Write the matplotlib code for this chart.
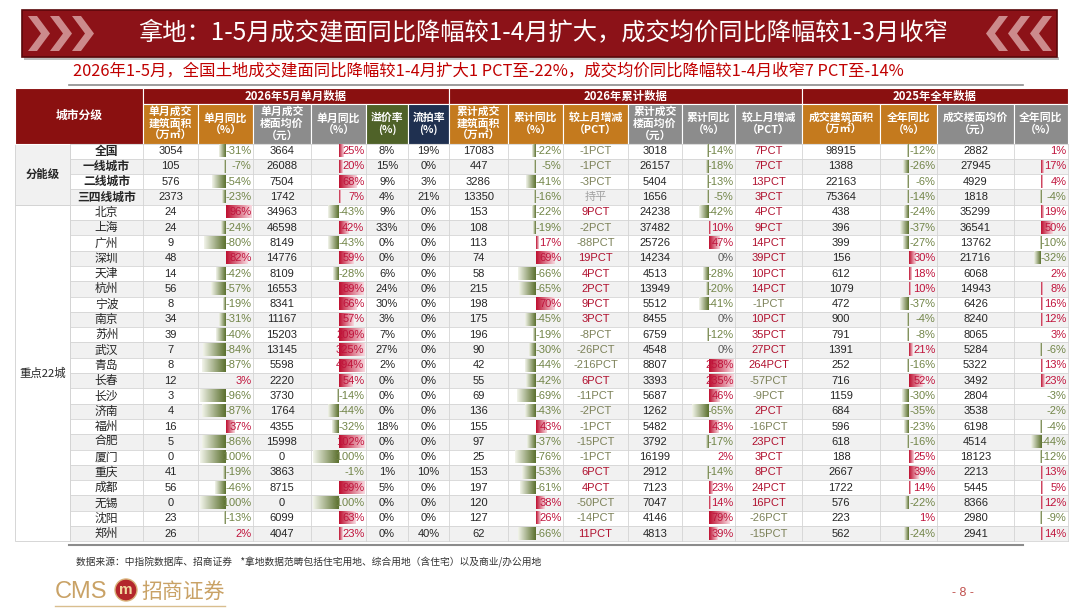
import numpy as np
import matplotlib
matplotlib.use("Agg")
import matplotlib.pyplot as plt
from matplotlib.patches import Rectangle, Polygon, Circle
from matplotlib.colors import LinearSegmentedColormap

CJK = ['Noto Sans CJK SC', 'DejaVu Sans']
NUMF = ['Liberation Sans', 'Noto Sans CJK SC', 'DejaVu Sans']

# ---- texts ----
title = "拿地：1-5月成交建面同比降幅较1-4月扩大，成交均价同比降幅较1-3月收窄"
subtitle = "2026年1-5月，全国土地成交建面同比降幅较1-4月扩大1 PCT至-22%，成交均价同比降幅较1-4月收窄7 PCT至-14%"
source = "数据来源：中指院数据库、招商证券    *拿地数据范畴包括住宅用地、综合用地（含住宅）以及商业/办公用地"
page_no = "- 8 -"

# ---- data ----
groups = [("分能级", 4), ("重点22城", 22)]
cities = ["全国", "一线城市", "二线城市", "三四线城市",
          "北京", "上海", "广州", "深圳", "天津", "杭州", "宁波", "南京", "苏州", "武汉", "青岛",
          "长春", "长沙", "济南", "福州", "合肥", "厦门", "重庆", "成都", "无锡", "沈阳", "郑州"]

m_area = [3054, 105, 576, 2373, 24, 24, 9, 48, 14, 56, 8, 34, 39, 7, 8, 12, 3, 4, 16, 5, 0, 41, 56, 0, 23, 26]
m_area_yoy = [-31, -7, -54, -23, 96, -24, -80, 82, -42, -57, -19, -31, -40, -84, -87, 3, -96, -87, 37, -86,
              -100, -19, -46, -100, -13, 2]
m_price = [3664, 26088, 7504, 1742, 34963, 46598, 8149, 14776, 8109, 16553, 8341, 11167, 15203, 13145, 5598,
           2220, 3730, 1764, 4355, 15998, 0, 3863, 8715, 0, 6099, 4047]
m_price_yoy = [25, 20, 68, 7, -43, 42, -43, 59, -28, 89, 66, 57, 209, 325, 494, 54, -14, -44, -32, 102,
               -100, -1, 99, -100, 63, 23]
premium = [8, 15, 9, 4, 9, 33, 0, 0, 6, 24, 30, 3, 7, 27, 2, 0, 0, 0, 18, 0, 0, 1, 5, 0, 0, 0]
unsold = [19, 0, 3, 21, 0, 0, 0, 0, 0, 0, 0, 0, 0, 0, 0, 0, 0, 0, 0, 0, 0, 10, 0, 0, 0, 40]

c_area = [17083, 447, 3286, 13350, 153, 108, 113, 74, 58, 215, 198, 175, 196, 90, 42, 55, 69, 136, 155, 97,
          25, 153, 197, 120, 127, 62]
c_area_yoy = [-22, -5, -41, -16, -22, -19, 17, 69, -66, -65, 70, -45, -19, -30, -44, -42, -69, -43, 43, -37,
              -76, -53, -61, 38, 26, -66]
c_area_chg = [-1, -1, -3, 0, 9, -2, -88, 19, 4, 2, 9, 3, -8, -26, -216, 6, -11, -2, -1, -15, -1, 6, 4, -50,
              -14, 11]
c_price = [3018, 26157, 5404, 1656, 24238, 37482, 25726, 14234, 4513, 13949, 5512, 8455, 6759, 4548, 8807,
           3393, 5687, 1262, 5482, 3792, 16199, 2912, 7123, 7047, 4146, 4813]
c_price_yoy = [-14, -18, -13, -5, -42, 10, 47, 0, -28, -20, -41, 0, -12, 0, 258, 235, 46, -65, 43, -17, 2,
               -14, 23, 14, 79, 39]
c_price_chg = [7, 7, 13, 3, 4, 9, 14, 39, 10, 14, -1, 10, 35, 27, 264, -57, -9, 2, -16, 23, 3, 8, 24, 16,
               -26, -15]

y_area = [98915, 1388, 22163, 75364, 438, 396, 399, 156, 612, 1079, 472, 900, 791, 1391, 252, 716, 1159,
          684, 596, 618, 188, 2667, 1722, 576, 223, 562]
y_area_yoy = [-12, -26, -6, -14, -24, -37, -27, 30, 18, 10, -37, -4, -8, 21, -16, 52, -30, -35, -23, -16,
              25, 39, 14, -22, 1, -24]
y_price = [2882, 27945, 4929, 1818, 35299, 36541, 13762, 21716, 6068, 14943, 6426, 8240, 8065, 5284, 5322,
           3492, 2804, 3538, 6198, 4514, 18123, 2213, 5445, 8366, 2980, 2941]
y_price_yoy = [1, 17, 4, -4, 19, 50, -10, -32, 2, 8, 16, 12, 3, -6, 13, 23, -3, -2, -4, -44, -12, 13, 5, 12,
               -9, 14]

top_headers = [("2026年5月单月数据", 6), ("2026年累计数据", 6), ("2025年全年数据", 4)]
O, G, GR, NV = '#C47A1E', '#8C8C8C', '#4F6228', '#1F3050'
columns = [
    ("单月成交\n建筑面积\n（万㎡）", O, m_area, "num"),
    ("单月同比\n（%）", O, m_area_yoy, "bar"),
    ("单月成交\n楼面均价\n（元）", G, m_price, "num"),
    ("单月同比\n（%）", G, m_price_yoy, "bar"),
    ("溢价率\n(%)", GR, premium, "pct"),
    ("流拍率\n(%)", NV, unsold, "pct"),
    ("累计成交\n建筑面积\n（万㎡）", O, c_area, "num"),
    ("累计同比\n（%）", O, c_area_yoy, "bar"),
    ("较上月增减\n（PCT）", O, c_area_chg, "chg"),
    ("累计成交\n楼面均价\n（元）", G, c_price, "num"),
    ("累计同比\n（%）", G, c_price_yoy, "bar"),
    ("较上月增减\n（PCT）", G, c_price_chg, "chg"),
    ("成交建筑面积\n（万㎡）", O, y_area, "num"),
    ("全年同比\n（%）", O, y_area_yoy, "bar"),
    ("成交楼面均价\n（元）", G, y_price, "num"),
    ("全年同比\n（%）", G, y_price_yoy, "bar"),
]

# ---- layout ----
x_edges = [15, 70, 143, 198, 253, 311, 366, 408, 449, 508, 563, 628, 682, 735, 802, 880, 937, 1014, 1068]
h_top, h_mid, y0, rh = 88, 104, 143.5, 15.3
DARK_RED = '#8A1010'
POS, NEG = '#C0143C', '#728548'
TXT = '#262626'
FS = 8.5
FN = 8
green_cm = LinearSegmentedColormap.from_list('g', ['#F2F4EA', '#5B702E'])
red_cm = LinearSegmentedColormap.from_list('r', ['#F8D9E0', '#BE0F30'])

fig = plt.figure(figsize=(10.8, 6.08), dpi=100)
ax = fig.add_axes([0, 0, 1, 1])

# banner
ax.add_patch(Rectangle((22, 10), 1035, 47, fc='#8C1218', ec='#5A080B', lw=1.2, zorder=1))
ax.add_patch(Rectangle((24, 57), 1035, 2.5, fc='#BDBDBD', ec='none', zorder=0))
for i in range(3):
    xs = 28 + i * 22
    ax.add_patch(Polygon([(xs, 16), (xs + 9, 16), (xs + 22, 33.5), (xs + 9, 51), (xs, 51), (xs + 13, 33.5)],
                         closed=True, fc='#E3B4B4', ec='none', alpha=0.75, zorder=2))
    xr = 1052 - i * 22
    ax.add_patch(Polygon([(xr, 16), (xr - 9, 16), (xr - 22, 33.5), (xr - 9, 51), (xr, 51), (xr - 13, 33.5)],
                         closed=True, fc='#E3B4B4', ec='none', alpha=0.75, zorder=2))
ax.text(543, 33.5, title, color='white', fontsize=17.5, family=CJK, ha='center', va='center', zorder=3)
ax.text(73, 71, subtitle, color='#C00000', fontsize=11.8, family=CJK, ha='left', va='center')
ax.plot([69, 1023], [84.5, 84.5], color='#8C8C8C', lw=1.2)

# header
ax.add_patch(Rectangle((x_edges[0], h_top), x_edges[2] - x_edges[0], y0 - h_top, fc=DARK_RED, ec='white', lw=0.8))
ax.text((x_edges[0] + x_edges[2]) / 2, (h_top + y0) / 2, "城市分级", color='white', fontsize=8.5,
        weight='bold', family=CJK, ha='center', va='center')
ci = 2
for label, n in top_headers:
    xa, xb = x_edges[ci], x_edges[ci + n]
    ax.add_patch(Rectangle((xa, h_top), xb - xa, h_mid - h_top, fc=DARK_RED, ec='white', lw=0.8))
    ax.text((xa + xb) / 2, (h_top + h_mid) / 2, label, color='white', fontsize=8.2, weight='bold',
            family=CJK, ha='center', va='center')
    ci += n
line_gap = 12
for j, (label, col, vals, kind) in enumerate(columns):
    xa, xb = x_edges[j + 2], x_edges[j + 3]
    ax.add_patch(Rectangle((xa, h_mid), xb - xa, y0 - h_mid, fc=col, ec='white', lw=0.8))
    lines = label.split("\n")
    ymid = (h_mid + y0) / 2
    for k, ln in enumerate(lines):
        yy = ymid + (k - (len(lines) - 1) / 2) * line_gap
        ax.text((xa + xb) / 2, yy, ln, color='white', fontsize=7.8, weight='bold',
                family=CJK, ha='center', va='center')

n_rows = len(cities)
y_bottom = y0 + n_rows * rh

# stripes
for i in range(n_rows):
    yt = y0 + i * rh
    ax.add_patch(Rectangle((x_edges[1], yt), x_edges[-1] - x_edges[1], rh,
                           fc='white' if i % 2 == 0 else '#F1F1F1', ec='none', zorder=0.5))

# group column
r = 0
for gname, n in groups:
    yt = y0 + r * rh
    ax.add_patch(Rectangle((x_edges[0], yt), x_edges[1] - x_edges[0], n * rh,
                           fc='#F1F1F1' if r == 0 else 'white', ec='#D0D0D0', lw=0.6, zorder=0.6))
    ax.text((x_edges[0] + x_edges[1]) / 2, yt + n * rh / 2, gname, color=TXT, fontsize=8.2,
            weight='bold' if r == 0 else 'normal', family=CJK, ha='center', va='center')
    r += n

# grid
for i in range(n_rows + 1):
    yy = y0 + i * rh
    ax.plot([x_edges[1], x_edges[-1]], [yy, yy], color='#D4D4D4', lw=0.6, zorder=1)
for xx in x_edges[1:]:
    ax.plot([xx, xx], [y0, y_bottom], color='#D4D4D4', lw=0.6, zorder=1)

# city names
for i, name in enumerate(cities):
    yc = y0 + (i + 0.5) * rh
    ax.text((x_edges[1] + x_edges[2]) / 2, yc, name, color=TXT, fontsize=FS,
            weight='bold' if i < 4 else 'normal', family=CJK, ha='center', va='center')


def bar_len(v, half):
    a = abs(v)
    if a < 4:
        return 0
    return min(half - 1.5, max(1.2, half * (a - 10) / 90))


grad = np.linspace(0, 1, 64)[None, :]
for j, (label, col, vals, kind) in enumerate(columns):
    xa, xb = x_edges[j + 2], x_edges[j + 3]
    xm = (xa + xb) / 2
    half = (xb - xa) / 2
    for i, v in enumerate(vals):
        yt = y0 + i * rh
        yc = yt + rh / 2
        if kind == "num":
            ax.text(xm, yc, str(v), color=TXT, fontsize=FN, family=NUMF, ha='center', va='center', zorder=3)
        elif kind == "pct":
            ax.text(xm, yc, f"{v}%", color=TXT, fontsize=FN, family=NUMF, ha='center', va='center', zorder=3)
        elif kind == "chg":
            if v == 0:
                s, c = "持平", '#A0A0A0'
            else:
                s, c = f"{v}PCT", ('#B0102E' if v > 0 else '#7C8158')
            ax.text(xm, yc, s, color=c, fontsize=FN, family=NUMF, ha='center', va='center', zorder=3)
        else:
            L = bar_len(v, half)
            if L > 0:
                if v < 0:
                    ax.imshow(grad, extent=(xm - L, xm, yt + rh - 1.5, yt + 1.5), cmap=green_cm, vmin=0, vmax=1,
                              aspect='auto', interpolation='bilinear', zorder=2)
                else:
                    ax.imshow(grad[:, ::-1], extent=(xm, xm + L, yt + rh - 1.5, yt + 1.5), cmap=red_cm, vmin=0,
                              vmax=1, aspect='auto', interpolation='bilinear', zorder=2)
            c = POS if v > 0 else (NEG if v < 0 else '#595959')
            ax.text(xb - 1.5, yc, f"{v}%", color=c, fontsize=FN, family=NUMF, ha='right', va='center', zorder=3)

# footer
ax.plot([69, 1023], [545, 545], color='#8C8C8C', lw=1.5)
ax.text(76, 562, source, color='#333333', fontsize=7, family=CJK, ha='left', va='center')
ax.text(55, 592, "CMS", color='#C9A266', fontsize=17, family=['Liberation Sans Narrow', 'Liberation Sans'],
        ha='left', va='center')
ax.add_patch(Circle((126, 590), 11, fc='#B3262B', ec='#D9B27A', lw=1))
ax.text(126, 590, "m", color='#F2D9A0', fontsize=11, weight='bold', family=NUMF, ha='center', va='center')
ax.text(141, 592, "招商证券", color='#C9A266', fontsize=15, family=CJK, ha='left', va='center')
ax.plot([55, 225], [606, 606], color='#D9BE8F', lw=1)
ax.text(963, 593, page_no, color='#C0504D', fontsize=9, family=NUMF, ha='center', va='center')

ax.set_xlim(0, 1080)
ax.set_ylim(608, 0)
ax.axis('off')
fig.savefig("out.png", dpi=100)
